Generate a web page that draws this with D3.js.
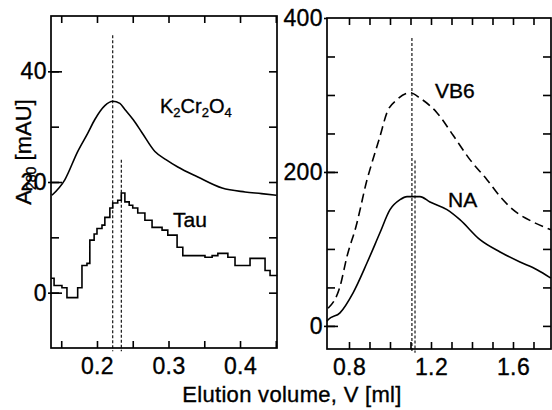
<!DOCTYPE html>
<html>
<head>
<meta charset="utf-8">
<script src="https://cdn.jsdelivr.net/npm/d3@7"></script>
<style>
  body { margin: 0; background: #fff; }
  svg { display: block; }
  text { font-family: "Liberation Sans", Arial, Helvetica, sans-serif; fill: #000; stroke: #000; stroke-width: 0.35px; }
  .tick text { font-size: 23px; letter-spacing: 0.4px; }
</style>
</head>
<body>
<svg id="chart" width="552" height="410"></svg>
<script>
'use strict'

// left panel: K2Cr2O4 and Tau, A280 in mAU
const k2cr2o4X = [0.137, 0.155, 0.173, 0.187, 0.197, 0.211, 0.222, 0.232, 0.239, 0.251, 0.263, 0.281, 0.297, 0.313, 0.341, 0.375, 0.407, 0.430, 0.451];
const k2cr2o4Y = [17.6, 20.4, 25.5, 28.8, 31.3, 33.8, 34.6, 34.2, 33.1, 31.2, 28.9, 25.5, 24.0, 22.7, 20.9, 18.9, 18.2, 17.9, 17.6];

const tauX = [0.136, 0.140, 0.151, 0.158, 0.166, 0.173, 0.179, 0.186, 0.190, 0.196, 0.200, 0.207, 0.211, 0.218, 0.222, 0.229, 0.234, 0.239, 0.245, 0.250, 0.257, 0.267, 0.277, 0.291, 0.299, 0.312, 0.320, 0.337, 0.351, 0.361, 0.369, 0.383, 0.393, 0.407, 0.414, 0.428, 0.435, 0.442, 0.452];
const tauY = [2.6, 1.3, 0.9, -0.9, -0.9, 0.9, 4.9, 5.3, 9.5, 10.6, 11.6, 12.2, 13.6, 15.3, 16.2, 16.7, 18.0, 16.4, 15.8, 15.3, 14.4, 13.1, 11.8, 11.3, 10.4, 8.2, 6.7, 6.7, 6.4, 6.7, 7.1, 6.4, 4.9, 4.9, 6.2, 6.2, 4.0, 3.1, 3.1];

// right panel: VB6 and NA
const vb6X = [0.698, 0.756, 0.790, 0.839, 0.854, 0.888, 0.902, 0.951, 0.985, 1.034, 1.098, 1.146, 1.229, 1.307, 1.390, 1.473, 1.537, 1.600, 1.698, 1.785];
const vb6Y = [23, 51, 90, 134, 151, 190, 203, 246, 277, 294, 303, 296, 277, 248, 216, 190, 168, 151, 135, 125];

const naX = [0.693, 0.698, 0.756, 0.820, 0.888, 0.951, 1.000, 1.049, 1.083, 1.146, 1.195, 1.278, 1.341, 1.439, 1.537, 1.634, 1.717, 1.785];
const naY = [6, 8, 17, 43, 82, 121, 151, 164, 168, 168, 161, 151, 138, 112, 96, 83, 73, 62];

// vertical dotted markers [x, top, bottom]
const leftMarkers = [[0.222, 46.5, -10.6], [0.234, 24.0, -10.6]];
const rightMarkers = [[1.107, 374, -35], [1.122, 215, -35]];

const leftXTicks = [0.15, 0.2, 0.25, 0.3, 0.35, 0.4, 0.45];
const leftXLabels = [0.2, 0.3, 0.4];
const leftYTicks = [0, 10, 20, 30, 40];
const leftYLabels = [0, 20, 40];

const rightXTicks = [0.8, 0.9, 1.0, 1.1, 1.2, 1.3, 1.4, 1.5, 1.6, 1.7];
const rightXLabels = [0.8, 1.2, 1.6];
const rightYTicks = [0, 50, 100, 150, 200, 250, 300, 350];
const rightYLabels = [0, 200, 400];

const svg = d3.select('#chart');

function zip(xs, ys) {
	return xs.map(function(v, i) { return [v, ys[i]]; });
}

function drawPanel(p) {
	var x = d3.scaleLinear().domain(p.xDomain).range([p.left, p.right]);
	var y = d3.scaleLinear().domain(p.yDomain).range([p.bottom, p.top]);
	var g = svg.append('g');

	// frame
	g.append('rect')
		.attr('x', p.left).attr('y', p.top)
		.attr('width', p.right - p.left).attr('height', p.bottom - p.top)
		.attr('fill', 'none').attr('stroke', '#000').attr('stroke-width', 1.7);

	// x ticks, bottom and top, pointing in
	var fx = function(d) { return p.xLabels.some(function(l) { return Math.abs(l - d) < 1e-9; }) ? d3.format(p.xFmt)(d) : ''; };
	g.append('g')
		.attr('transform', 'translate(0,' + p.bottom + ')')
		.call(d3.axisBottom(x).tickValues(p.xTicks).tickSizeInner(-7).tickSizeOuter(0).tickPadding(10).tickFormat(fx));
	g.append('g')
		.attr('transform', 'translate(0,' + p.top + ')')
		.call(d3.axisTop(x).tickValues(p.xTicks).tickSizeInner(-7).tickSizeOuter(0).tickFormat(''));

	// y ticks: minor in, major in plus a bit out
	g.append('g')
		.attr('transform', 'translate(' + p.left + ',0)')
		.call(d3.axisLeft(y).tickValues(p.yTicks).tickSizeInner(-8).tickSizeOuter(0).tickFormat(''));
	g.append('g')
		.attr('transform', 'translate(' + p.left + ',0)')
		.call(d3.axisLeft(y).tickValues(p.yLabels.filter(function(v) { return v > p.yDomain[0] && v < p.yDomain[1]; })).tickSizeInner(-11).tickSizeOuter(0).tickFormat(''));
	g.append('g')
		.attr('transform', 'translate(' + p.left + ',0)')
		.call(d3.axisLeft(y).tickValues(p.yLabels).tickSizeInner(3).tickSizeOuter(0).tickPadding(p.yPad));
	g.append('g')
		.attr('transform', 'translate(' + p.right + ',0)')
		.call(d3.axisRight(y).tickValues(p.yTicks).tickSizeInner(-8).tickSizeOuter(0).tickFormat(''));

	g.selectAll('.domain').remove();
	g.selectAll('.tick line')
		.attr('stroke', '#000')
		.attr('stroke-width', 1.6);

	var line = d3.line()
		.x(function(d) { return x(d[0]); })
		.y(function(d) { return y(d[1]); });

	p.series.forEach(function(s) {
		g.append('path')
			.datum(s.data)
			.attr('fill', 'none')
			.attr('stroke', '#000')
			.attr('stroke-width', 1.6)
			.attr('stroke-dasharray', s.dash || null)
			.attr('d', line.curve(s.curve || d3.curveLinear));
	});

	g.selectAll('.marker')
		.data(p.markers)
		.enter().append('line')
		.attr('class', 'marker')
		.attr('x1', function(d) { return x(d[0]); })
		.attr('x2', function(d) { return x(d[0]); })
		.attr('y1', function(d) { return y(d[1]); })
		.attr('y2', function(d) { return y(d[2]); })
		.attr('stroke', '#000')
		.attr('stroke-width', 1.1)
		.attr('stroke-dasharray', '3,2');

	return { x: x, y: y, g: g };
}

var left = drawPanel({
	left: 51, right: 277, top: 16, bottom: 348,
	xDomain: [0.1357, 0.4517], yDomain: [-10, 50],
	xTicks: leftXTicks, xLabels: leftXLabels, xFmt: '.1f',
	yTicks: leftYTicks, yLabels: leftYLabels, yPad: 1,
	series: [
		{ data: zip(k2cr2o4X, k2cr2o4Y), curve: d3.curveMonotoneX },
		{ data: zip(tauX, tauY), curve: d3.curveStepAfter }
	],
	markers: leftMarkers
});

var right = drawPanel({
	left: 327, right: 551, top: 18, bottom: 349,
	xDomain: [0.6927, 1.7854], yDomain: [-30, 400],
	xTicks: rightXTicks, xLabels: rightXLabels, xFmt: '.1f',
	yTicks: rightYTicks, yLabels: rightYLabels, yPad: 1,
	series: [
		{ data: zip(vb6X, vb6Y), dash: '9,5', curve: d3.curveMonotoneX },
		{ data: zip(naX, naY), curve: d3.curveMonotoneX }
	],
	markers: rightMarkers
});

// curve labels
var k = left.g.append('text')
	.attr('x', 160).attr('y', 113)
	.style('font-size', '20px');
[['K', 0], ['2', 1], ['Cr', 0], ['2', 1], ['O', 0], ['4', 1]].forEach(function(t, i, a) {
	var prev = i > 0 ? a[i - 1][1] : 0;
	k.append('tspan')
		.attr('dy', t[1] === prev ? 0 : (t[1] ? 4 : -4))
		.style('font-size', t[1] ? '13px' : '20px')
		.text(t[0]);
});

left.g.append('text').attr('x', 173).attr('y', 227).style('font-size', '21px').text('Tau');
right.g.append('text').attr('x', 435).attr('y', 98).style('font-size', '21px').text('VB6');
right.g.append('text').attr('x', 448).attr('y', 207).style('font-size', '21px').text('NA');

// axis titles
var yt = svg.append('text')
	.attr('transform', 'translate(31,152) rotate(-90)')
	.attr('text-anchor', 'middle')
	.style('font-size', '22px');
yt.append('tspan').text('A');
yt.append('tspan').attr('dy', 5).style('font-size', '14px').text('280');
yt.append('tspan').attr('dy', -5).text(' [mAU]');

svg.append('text')
	.attr('x', 292)
	.attr('y', 402)
	.attr('text-anchor', 'middle')
	.style('font-size', '22px')
	.style('letter-spacing', '0.3px')
	.text('Elution volume, V [ml]');
</script>
</body>
</html>
